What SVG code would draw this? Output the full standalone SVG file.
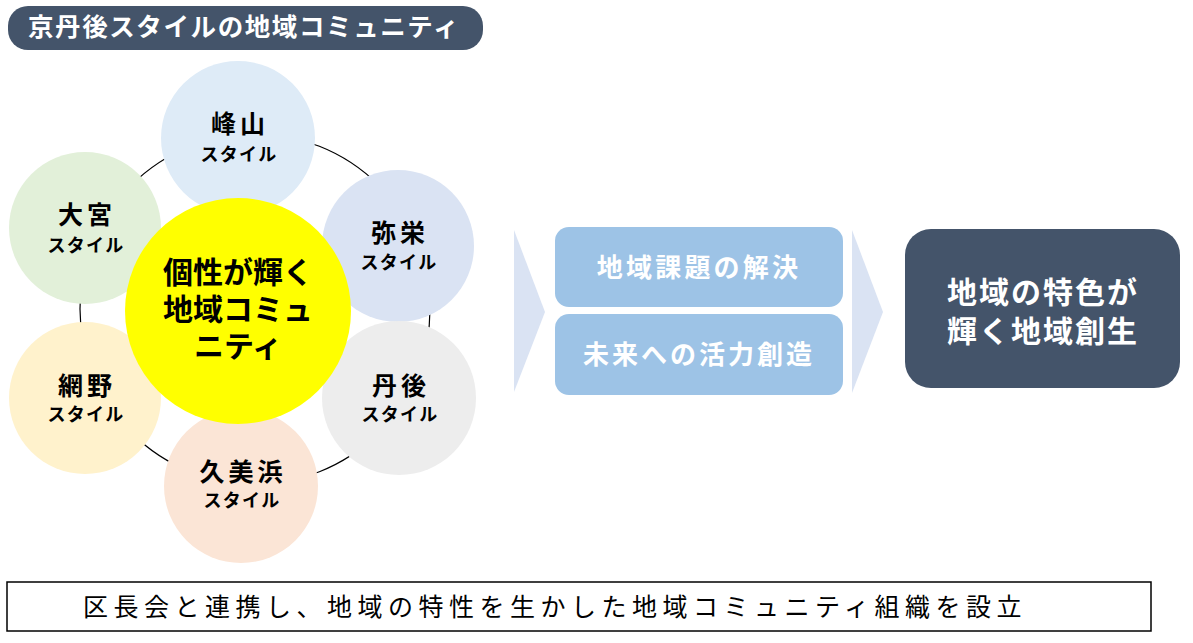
<svg xmlns="http://www.w3.org/2000/svg" width="1193" height="643" viewBox="0 0 1193 643">
<style>
text{font-family:"Noto Sans CJK JP","Noto Sans",sans-serif;text-anchor:middle;}
.name{font-size:25px;font-weight:700;fill:#000;letter-spacing:4px;}
.sub{font-size:18px;font-weight:700;fill:#000;letter-spacing:1.2px;}
.center{font-size:30px;font-weight:700;fill:#000;}
.wt{fill:#fff;font-weight:700;}
.chev{fill:#DAE3F3;}
.lbox{fill:#9DC3E6;}
.dark{fill:#44546A;}
</style>
<rect width="1193" height="643" fill="#fff"/>
<g id="title">
<rect x="8" y="6" width="475" height="44" rx="20" class="dark"/>
<text x="244" y="36" class="wt" style="font-size:25.5px;letter-spacing:1.6px">京丹後スタイルの地域コミュニティ</text>
</g>
<g id="connectors">
<circle cx="255" cy="309" r="175" fill="none" stroke="#000" stroke-width="1.2"/>
</g>
<g id="node-mineyama">
<circle cx="238" cy="138" r="77" fill="#DEEBF7"/>
<text x="240" y="133" class="name">峰山</text>
<text x="239" y="161" class="sub">スタイル</text>
</g>
<g id="node-omiya">
<circle cx="85" cy="228" r="76" fill="#E2F0D9"/>
<text x="87" y="224" class="name">大宮</text>
<text x="86" y="252" class="sub">スタイル</text>
</g>
<g id="node-yasaka">
<circle cx="398" cy="246" r="76" fill="#DAE3F3"/>
<text x="400" y="242" class="name">弥栄</text>
<text x="399" y="269" class="sub">スタイル</text>
</g>
<g id="node-tango">
<circle cx="399" cy="398" r="77" fill="#EDEDED"/>
<text x="401" y="395" class="name">丹後</text>
<text x="400" y="421" class="sub">スタイル</text>
</g>
<g id="node-kumihama">
<circle cx="241" cy="486" r="77" fill="#FBE5D6"/>
<text x="243" y="481" class="name">久美浜</text>
<text x="242" y="507" class="sub">スタイル</text>
</g>
<g id="node-amino">
<circle cx="85" cy="398" r="76" fill="#FFF2CC"/>
<text x="87" y="395" class="name">網野</text>
<text x="86" y="421" class="sub">スタイル</text>
</g>
<g id="node-center">
<circle cx="238" cy="311" r="113" fill="#FFFF00"/>
<text class="center"><tspan x="238" y="283">個性が輝く</tspan><tspan x="238" y="320">地域コミュ</tspan><tspan x="238" y="357">ニティ</tspan></text>
</g>
<g id="chevron1">
<polygon points="514,230 545,312 514,392" class="chev"/>
</g>
<g id="box-kadai">
<rect x="555" y="227" width="288" height="80" rx="14" class="lbox"/>
<text x="699" y="277" class="wt" style="font-size:26px;letter-spacing:3.2px">地域課題の解決</text>
</g>
<g id="box-katsuryoku">
<rect x="555" y="314" width="288" height="81" rx="14" class="lbox"/>
<text x="699" y="364" class="wt" style="font-size:26px;letter-spacing:3px">未来への活力創造</text>
</g>
<g id="chevron2">
<polygon points="852,230 883,312 852,393" class="chev"/>
</g>
<g id="box-result">
<rect x="905" y="229" width="275" height="159" rx="26" class="dark"/>
<text class="wt" style="font-size:30px;letter-spacing:2px"><tspan x="1043" y="303">地域の特色が</tspan><tspan x="1043" y="342">輝く地域創生</tspan></text>
</g>
<g id="footer">
<rect x="7" y="582" width="1144" height="49" fill="#fff" stroke="#000" stroke-width="1.5"/>
<text x="83" y="616" style="font-size:25px;font-weight:400;letter-spacing:5.5px;text-anchor:start;fill:#000">区長会と連携し、地域の特性を生かした地域コミュニティ組織を設立</text>
</g>
</svg>
